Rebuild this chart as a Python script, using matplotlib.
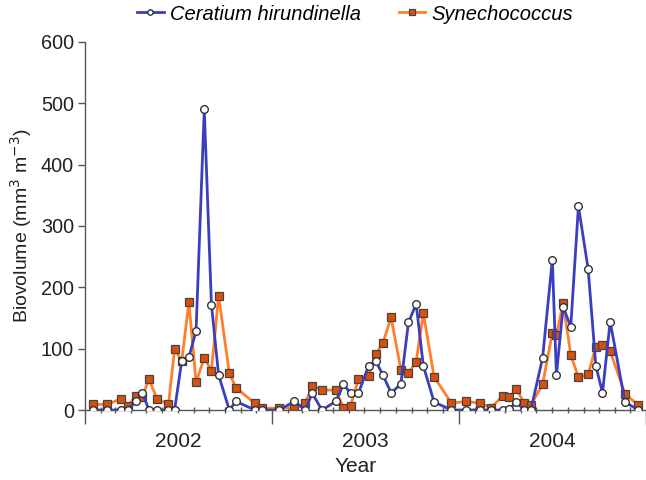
import matplotlib
matplotlib.use("Agg")
import matplotlib.pyplot as plt
import matplotlib.dates as mdates
import numpy as np
import pandas as pd

plt.rcParams['font.family'] = ['Liberation Sans', 'DejaVu Sans']

# Sampling dates (shared by both taxa)
dates = [
    "2002-01-17", "2002-02-13", "2002-03-12", "2002-03-26", "2002-04-10", "2002-04-23",
    "2002-05-06", "2002-05-22", "2002-06-13", "2002-06-25", "2002-07-09", "2002-07-23",
    "2002-08-06", "2002-08-22", "2002-09-05", "2002-09-19", "2002-10-10", "2002-10-23",
    "2002-11-29", "2002-12-12",
    "2003-01-15", "2003-02-14", "2003-03-07", "2003-03-21", "2003-04-09", "2003-05-06",
    "2003-05-21", "2003-06-04", "2003-06-19", "2003-07-09", "2003-07-23", "2003-08-06",
    "2003-08-22", "2003-09-10", "2003-09-25", "2003-10-10", "2003-10-24", "2003-11-14",
    "2003-12-18",
    "2004-01-16", "2004-02-12", "2004-03-05", "2004-03-27", "2004-04-09", "2004-04-23",
    "2004-05-08", "2004-05-21", "2004-06-13", "2004-07-02", "2004-07-10", "2004-07-23",
    "2004-08-07", "2004-08-22", "2004-09-10", "2004-09-25", "2004-10-08", "2004-10-23",
    "2004-11-21", "2004-12-17",
]

ceratium = [
    0, 0, 0, 0, 14, 28, 0, 0, 0, 0, 80, 86, 129, 490, 172, 57, 0, 14, 0, 0,
    0, 14, 0, 27, 0, 14, 42, 27, 27, 72, 80, 57, 28, 42, 143, 173, 72, 13, 0,
    0, 0, 0, 0, 2, 13, 0, 0, 85, 245, 57, 168, 136, 332, 230, 72, 28, 144, 13, 0,
]

synechococcus = [
    9, 9, 18, 6, 23, 22, 50, 18, 9, 99, 80, 176, 45, 85, 64, 186, 60, 36, 11, 3,
    3, 4, 11, 39, 33, 32, 4, 7, 50, 56, 91, 109, 151, 66, 60, 79, 158, 54, 11,
    14, 11, 4, 23, 21, 34, 11, 8, 42, 125, 122, 174, 90, 53, 58, 103, 106, 96, 26, 8,
]

years = [2002, 2003, 2004]
yticks = [0, 100, 200, 300, 400, 500, 600]

t = pd.to_datetime(dates)

fig = plt.figure(figsize=(6.46, 4.80), dpi=100)
ax = fig.add_axes([85 / 646, 1 - 410 / 480, 561 / 646, 368 / 480])

ax.plot(t, ceratium, color="#3b3fbf", lw=2.0, marker="o", ms=5.5,
        mfc="white", mec="#333333", mew=1.0, label="Ceratium hirundinella", zorder=3)
ax.plot(t, synechococcus, color="#ff7f2a", lw=2.0, marker="s", ms=5.5,
        mfc="#d9500c", mec="#444444", mew=0.9, label="Synechococcus", zorder=2)

ax.set_xlim(pd.Timestamp("2002-01-01"), pd.Timestamp("2005-01-01"))
ax.set_ylim(0, 600)
ax.set_yticks(yticks)
ax.tick_params(axis="y", direction="out", length=5, width=1, color="#555555",
               labelsize=14.3, pad=3, labelcolor="#222222")

ax.xaxis.set_major_locator(mdates.YearLocator())
ax.xaxis.set_minor_locator(mdates.MonthLocator())
ax.xaxis.set_major_formatter(plt.NullFormatter())
ax.tick_params(axis="x", which="major", direction="out", length=10, width=1, color="#555555")
ax.tick_params(axis="x", which="minor", direction="inout", length=5, width=1, color="#555555")

for yr in years:
    ax.text(pd.Timestamp(f"{yr}-07-02"), -0.06, str(yr), transform=ax.get_xaxis_transform(),
            ha="center", va="top", fontsize=15, color="#222222")

for s in ["top", "right"]:
    ax.spines[s].set_visible(False)
for s in ["left", "bottom"]:
    ax.spines[s].set_color("#555555")
    ax.spines[s].set_linewidth(1)

ax.set_ylabel("Biovolume (mm$^3$ m$^{-3}$)", fontsize=14, color="#222222", labelpad=5)
fig.text(356 / 646, 1 - 466 / 480, "Year", ha="center", va="center", fontsize=15, color="#222222")

leg = fig.legend(loc="center", bbox_to_anchor=(355 / 646, 1 - 14 / 480), ncol=2, frameon=False,
                 prop={"style": "italic", "size": 14.5}, handlelength=1.3, columnspacing=1.9,
                 handletextpad=0.3, markerscale=0.7)

fig.savefig("out.png", dpi=100)
